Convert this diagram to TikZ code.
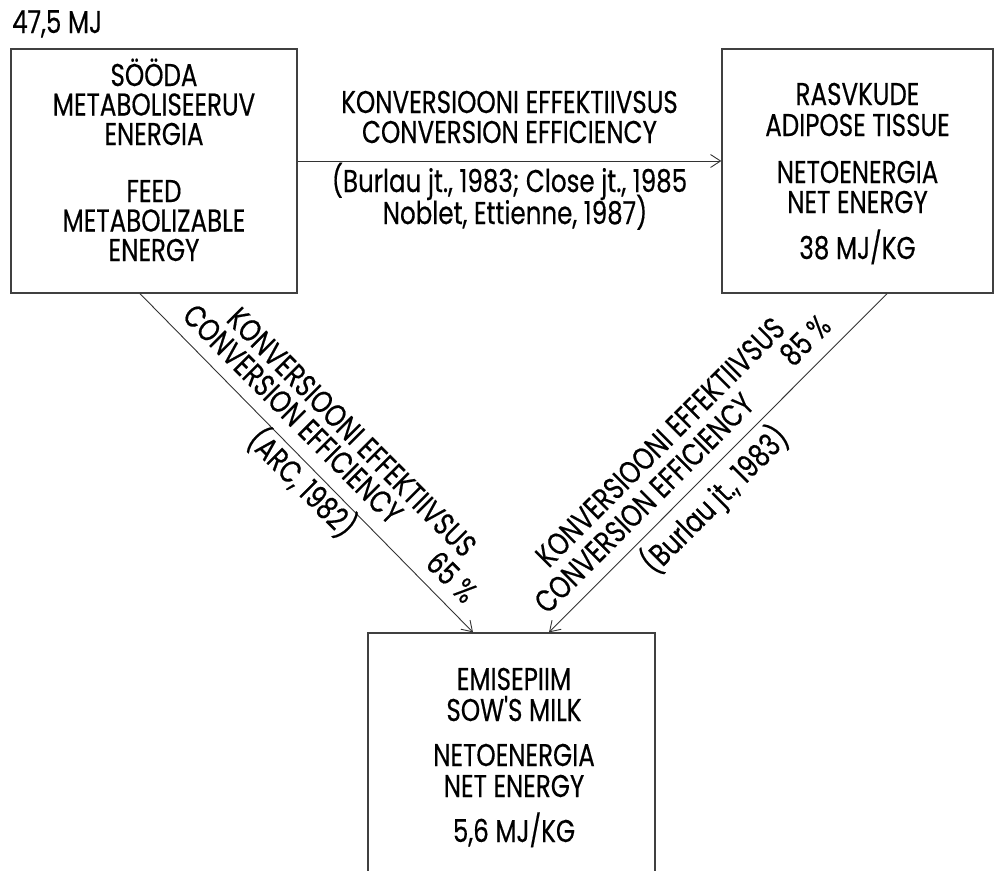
\documentclass[tikz,border=0pt]{standalone}
\usepackage{fontspec}
\setmainfont[FakeStretch=0.78,FakeBold=0.4,Ligatures=TeXOff]{Poppins}
\usetikzlibrary{arrows.meta}
\begin{document}
\begin{tikzpicture}[x=1pt,y=-1pt,
  box/.style={draw=black!75,line width=1.3pt,inner sep=0pt},
  txt/.style={font=\fontsize{31.5}{36}\selectfont,inner sep=0pt,anchor=base},
  dtxt/.style={font=\fontsize{31.5}{36}\selectfont,inner sep=0pt},
  conn/.style={draw=black!80,line width=0.9pt,-{Straight Barb[length=10pt,width=13pt]}}]
\useasboundingbox (0,0) rectangle (995,870);

% boxes
\node[box,minimum width=286pt,minimum height=244pt] (feed) at (154,171) {};
\node[box,minimum width=271pt,minimum height=244pt] (adipose) at (857.5,171) {};
\node[box,minimum width=287pt,minimum height=267pt] (milk) at (511.5,766.5) {};

% feed box text
\node[txt,anchor=base west] (mj) at (12,33) {47,5 MJ};
\node[txt] (f1) at (154,86) {SÖÖDA};
\node[txt] (f2) at (154,115.5) {METABOLISEERUV};
\node[txt] (f3) at (154,145) {ENERGIA};
\node[txt] (f4) at (154,202) {FEED};
\node[txt] (f5) at (154,231.5) {METABOLIZABLE};
\node[txt] (f6) at (154,261) {ENERGY};

% adipose box text
\node[txt] (a1) at (857.5,105) {RASVKUDE};
\node[txt] (a2) at (857.5,136) {ADIPOSE TISSUE};
\node[txt] (a3) at (857.5,183) {NETOENERGIA};
\node[txt] (a4) at (857.5,213) {NET ENERGY};
\node[txt] (a5) at (857.5,259) {38 MJ/KG};

% milk box text
\node[txt] (m1) at (514,690) {EMISEPIIM};
\node[txt] (m2) at (514,721) {SOW'S MILK};
\node[txt] (m3) at (514,766) {NETOENERGIA};
\node[txt] (m4) at (514,797) {NET ENERGY};
\node[txt] (m5) at (514,842) {5,6 MJ/KG};

% connectors
\draw[conn] ([yshift=10pt]feed.east) -- ([yshift=10pt]adipose.west);
\draw[conn] ([xshift=-14pt]feed.south) -- ([xshift=-38.5pt]milk.north);
\draw[conn] ([xshift=29.5pt]adipose.south) -- ([xshift=37.5pt]milk.north);

% horizontal label
\node[txt] (h1) at (509.5,113) {KONVERSIOONI EFFEKTIIVSUS};
\node[txt] (h2) at (509.5,143) {CONVERSION EFFICIENCY};
\node[txt] (h3) at (509.5,192) {(Burlau jt., 1983; Close jt., 1985};
\node[txt] (h4) at (515,224) {Noblet, Ettienne, 1987)};

% left diagonal label
\node[dtxt,rotate=-45] (l1) at (352,432) {KONVERSIOONI EFFEKTIIVSUS};
\node[dtxt,rotate=-45] (l2) at (293,414) {CONVERSION EFFICIENCY};
\node[dtxt,rotate=-45] (l3) at (302.5,482.5) {(ARC, 1982)};
\node[dtxt,rotate=-45] (l4) at (452,577) {65 \%};

% right diagonal label
\node[dtxt,rotate=45] (r1) at (660,442) {KONVERSIOONI EFFEKTIIVSUS};
\node[dtxt,rotate=45] (r2) at (644,503) {CONVERSION EFFICIENCY};
\node[dtxt,rotate=45] (r3) at (715,500) {(Burlau jt., 1983)};
\node[dtxt,rotate=45] (r4) at (805,340) {85 \%};
\end{tikzpicture}
\end{document}
